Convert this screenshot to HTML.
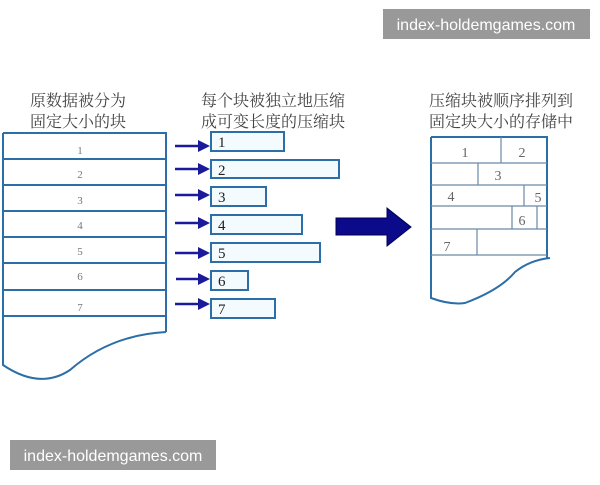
<!DOCTYPE html>
<html><head><meta charset="utf-8"><style>
body{margin:0;background:#fff;width:600px;height:480px;overflow:hidden}
text{font-family:"Liberation Serif","Noto Serif CJK SC",serif}
</style></head><body>
<svg width="600" height="480" viewBox="0 0 600 480" xmlns="http://www.w3.org/2000/svg">
<g fill="#444" font-size="16">
<text x="30" y="106">原数据被分为</text>
<text x="30" y="127">固定大小的块</text>
<text x="201" y="106">每个块被独立地压缩</text>
<text x="201" y="127">成可变长度的压缩块</text>
<text x="429" y="106">压缩块被顺序排列到</text>
<text x="429" y="127">固定块大小的存储中</text>
</g>
<g stroke="#2b6ea8" stroke-width="2" fill="none">
<path d="M3 133 H166 V332 M3 133 V365 Q40 390 70 370 Q110 335 166 332"/>
<path d="M3 159H166M3 185H166M3 211H166M3 237H166M3 263H166M3 290H166M3 316H166"/>
</g>
<g fill="#777" font-size="11" text-anchor="middle">
<text x="80" y="154">1</text><text x="80" y="178">2</text><text x="80" y="204">3</text>
<text x="80" y="229">4</text><text x="80" y="255">5</text><text x="80" y="280">6</text><text x="80" y="311">7</text>
</g>
<g stroke="#1a1a9a" stroke-width="2.5" fill="#1a1a9a">
<path d="M175 146H200M175 169H200M175 195H200M175 223H200M175 253H200M176 279H200M175 304H200"/>
</g>
<g fill="#1a1a9a">
<path d="M198 140L210 146L198 152Z M198 163L210 169L198 175Z M198 189L210 195L198 201Z M198 217L210 223L198 229Z M198 247L210 253L198 259Z M198 273L210 279L198 285Z M198 298L210 304L198 310Z"/>
</g>
<g stroke="#2b6ea8" stroke-width="2" fill="#f4fbff">
<rect x="211" y="132" width="73" height="19"/>
<rect x="211" y="160" width="128" height="18"/>
<rect x="211" y="187" width="55" height="19"/>
<rect x="211" y="215" width="91" height="19"/>
<rect x="211" y="243" width="109" height="19"/>
<rect x="211" y="271" width="37" height="19"/>
<rect x="211" y="299" width="64" height="19"/>
</g>
<g fill="#222" font-size="15">
<text x="218" y="147">1</text><text x="218" y="175">2</text><text x="218" y="202">3</text>
<text x="218" y="230">4</text><text x="218" y="258">5</text><text x="218" y="286">6</text><text x="218" y="314">7</text>
</g>
<path d="M336 218H387V208L411 227L387 246V235H336Z" fill="#0a0a8a" stroke="#000050" stroke-width="1"/>
<g stroke="#2b6ea8" stroke-width="2" fill="none">
<path d="M431 137H547V258 M431 137V298 Q450 305 465 303 Q500 290 515 272 Q530 260 550 258"/>
</g>
<g stroke="#6a8aa8" stroke-width="1.2" fill="none">
<path d="M431 163H547M431 185H547M431 206H547M431 229H547M431 255H547"/>
<path d="M501 137V163M478 163V185M524 185V206M512 206V229M537 206V229M477 229V255"/>
</g>
<g fill="#666" font-size="14" text-anchor="middle">
<text x="465" y="157">1</text><text x="522" y="157">2</text><text x="498" y="180">3</text>
<text x="451" y="201">4</text><text x="538" y="202">5</text><text x="522" y="225">6</text><text x="447" y="251">7</text>
</g>
<rect x="383" y="9" width="207" height="30" fill="#999"/>
<text x="486" y="30" fill="#fff" font-size="16" text-anchor="middle" style="font-family:'Liberation Sans',sans-serif">index-holdemgames.com</text>
<rect x="10" y="440" width="206" height="30" fill="#999"/>
<text x="113" y="461" fill="#fff" font-size="16" text-anchor="middle" style="font-family:'Liberation Sans',sans-serif">index-holdemgames.com</text>
</svg>
</body></html>
